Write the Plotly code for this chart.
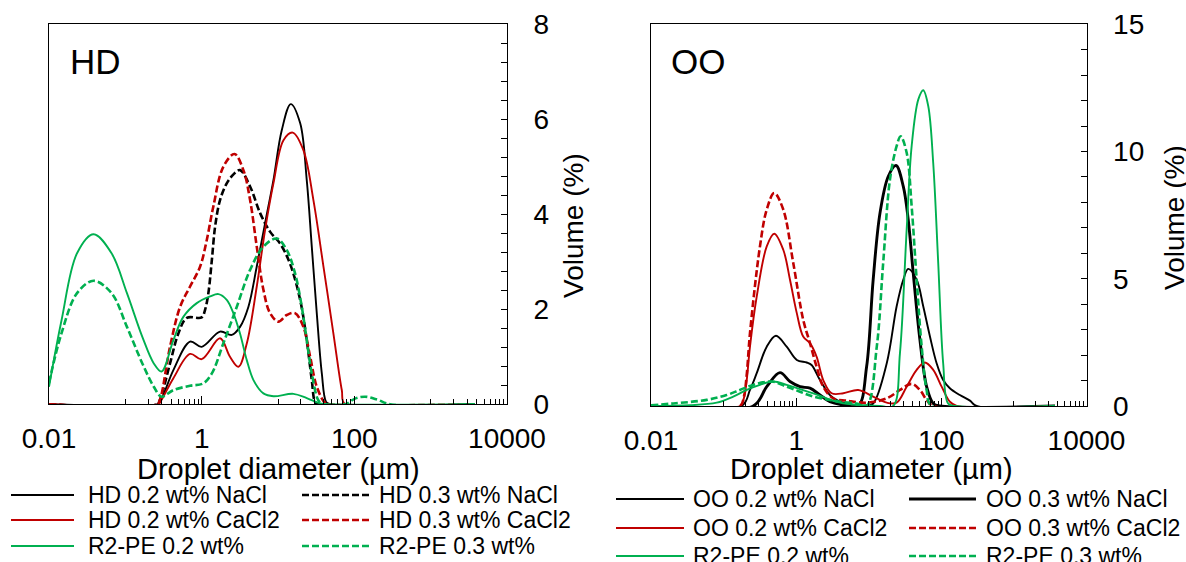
import plotly.graph_objects as go

W, H = 1186, 562
FONT = "Liberation Sans, Arial, sans-serif"

# ---------------- HD emulsions: droplet diameter (µm) / volume (%) ----------------
hd_nacl_02_d = [0.01, 0.26, 0.285, 0.426, 0.705, 1.0, 1.74, 2.48, 3.18, 4.09, 5.27, 6.77, 8.71,
                11.2, 14.7, 19.5, 23.8, 27.7, 32.2, 37.5, 42.7, 48.2, 3800]
hd_nacl_02_v = [0, 0, 0.05, 0.72, 1.32, 1.21, 1.53, 1.46, 1.63, 2.05, 2.9, 3.81, 4.72,
                5.77, 6.32, 5.92, 4.72, 3.32, 1.92, 0.65, 0.05, 0, 0]

hd_nacl_03_d = [0.01, 0.26, 0.285, 0.385, 0.495, 0.64, 1.0, 1.108, 1.224, 1.36, 1.5, 1.74, 2.13,
                2.61, 3.18, 4.32, 5.85, 7.9, 10.6, 14.3, 19.5, 23.8, 27.7, 30.5, 33.3, 3800]
hd_nacl_03_v = [0, 0, 0.1, 0.86, 1.49, 1.82, 1.83, 1.99, 2.34, 3.04, 3.74, 4.3, 4.65,
                4.84, 4.93, 4.58, 4.02, 3.63, 3.39, 2.97, 2.2, 1.35, 0.51, 0.05, 0, 0]

hd_cacl2_02_d = [0.01, 0.268, 0.29, 0.426, 0.705, 1.0, 1.74, 2.35, 3.03, 3.9, 5.27, 6.77, 8.71,
                 11.8, 15.6, 21.5, 29.1, 39.4, 53.2, 68.5, 75.7, 3800]
hd_cacl2_02_v = [0, 0, 0.06, 0.55, 1.06, 0.95, 1.39, 1.0, 0.79, 1.28, 2.48, 3.67, 4.65,
                 5.56, 5.72, 5.35, 4.3, 2.9, 1.49, 0.3, 0, 0]

hd_cacl2_03_d = [0.01, 0.26, 0.285, 0.385, 0.521, 0.705, 0.955, 1.167, 1.42, 1.92, 2.69, 3.52,
                 4.31, 5.27, 6.44, 7.87, 10.1, 13.0, 16.7, 21.5, 26.4, 32.2, 41.4, 48.0, 3800]
hd_cacl2_03_v = [0, 0, 0.1, 1.21, 2.05, 2.48, 2.9, 3.46, 4.16, 5.0, 5.27, 4.93,
                 4.3, 3.32, 2.41, 1.92, 1.74, 1.88, 1.92, 1.63, 1.0, 0.37, 0.03, 0, 0]

hd_r2pe_02_d = [0.01, 0.0146, 0.0233, 0.0383, 0.066, 0.105, 0.167, 0.236, 0.298, 0.426, 0.575,
                0.863, 1.29, 1.66, 2.13, 2.6, 3.18, 3.9, 4.77, 6.44, 8.71, 15.9, 23.8, 35.6, 48.0, 3800]
hd_r2pe_02_v = [0.37, 1.77, 3.18, 3.58, 3.18, 2.34, 1.42, 0.86, 0.69, 1.35, 1.84,
                2.13, 2.27, 2.32, 2.2, 1.92, 1.49, 0.93, 0.51, 0.23, 0.17, 0.22, 0.13, 0.02, 0, 0]

hd_r2pe_03_d = [0.01, 0.0146, 0.0233, 0.0383, 0.066, 0.105, 0.167, 0.236, 0.298, 0.426, 0.705,
                1.05, 1.36, 1.92, 2.88, 4.31, 6.44, 9.64, 13.0, 16.7, 20.5, 23.8, 27.7, 33.9, 39.0,
                75.7, 102, 138, 199, 294, 3800]
hd_r2pe_03_v = [0.45, 1.5, 2.34, 2.6, 2.34, 1.63, 0.86, 0.37, 0.16, 0.3, 0.39,
                0.44, 0.65, 1.28, 2.05, 2.83, 3.32, 3.49, 3.25, 2.76, 2.05, 1.35, 0.65, 0.08, 0,
                0, 0.12, 0.16, 0.1, 0, 0]

# ---------------- OO emulsions: droplet diameter (µm) / volume (%) ----------------
oo_nacl_02_d = [0.01, 0.177, 0.231, 0.286, 0.393, 0.527, 0.74, 1.02, 1.4, 1.63, 2.13, 2.92, 4.01,
                6.12, 9.35, 11.5, 17.7, 24.2, 29.9, 35.0, 45.7, 56.4, 69.7, 86.1, 106, 131, 180,
                248, 306, 3670]
oo_nacl_02_v = [0, 0, 0.63, 1.29, 2.33, 2.76, 2.33, 1.81, 1.71, 1.61, 1.02, 0.43, 0.17,
                0.05, 0.02, 0.1, 1.68, 3.91, 4.96, 5.39, 4.96, 3.91, 2.73, 1.68, 1.02, 0.7, 0.43,
                0.21, 0, 0]

oo_nacl_03_d = [0.01, 0.256, 0.393, 0.598, 0.822, 1.13, 1.55, 2.13, 2.92, 4.46, 7.16, 9.35, 11.5,
                14.3, 18.6, 23.7, 29.9, 35.0, 41.0, 50.7, 62.7, 77.3, 95.7, 3670]
oo_nacl_03_v = [0, 0, 0.76, 1.31, 0.96, 0.76, 0.7, 0.43, 0.17, 0.04, 0, 1.55, 4.96,
                7.59, 9.03, 9.45, 8.63, 7.32, 5.22, 2.6, 0.76, 0.1, 0, 0]

oo_cacl2_02_d = [0.01, 0.168, 0.19, 0.208, 0.231, 0.286, 0.393, 0.499, 0.664, 0.822, 1.02, 1.25,
                 1.55, 1.91, 2.36, 3.08, 4.46, 7.16, 11.5, 17.7, 24.2, 33.3, 45.7, 59.4, 77.3, 101,
                 131, 163, 3670]
oo_cacl2_02_v = [0, 0, 0.3, 1.0, 2.33, 4.3, 6.27, 6.77, 6.14, 4.96, 3.65, 2.73,
                 2.47, 1.94, 1.02, 0.5, 0.5, 0.63, 0.37, 0.13, 0.13, 0.76, 1.42, 1.71, 1.42, 0.76,
                 0.17, 0, 0]

oo_cacl2_03_d = [0.01, 0.168, 0.19, 0.208, 0.231, 0.317, 0.393, 0.499, 0.664, 0.912, 1.25, 1.55,
                 1.91, 2.36, 3.24, 4.97, 9.35, 17.7, 26.9, 39.0, 50.7, 62.7, 77.3, 3670]
oo_cacl2_03_v = [0, 0, 0.35, 1.2, 2.86, 6.27, 7.72, 8.37, 7.72, 5.62, 3.39, 2.47,
                 1.55, 0.76, 0.3, 0.21, 0.13, 0.3, 0.63, 0.87, 0.63, 0.24, 0, 0]

oo_r2pe_02_d = [0.01, 0.0344, 0.0804, 0.136, 0.208, 0.317, 0.484, 0.74, 1.13, 1.72, 2.63, 4.01,
                6.81, 14.3, 21.7, 26.9, 33.3, 39.0, 48.2, 56.4, 66.1, 77.3, 90.6, 106, 124, 154, 3670]
oo_r2pe_02_v = [0, 0.03, 0.13, 0.37, 0.63, 0.83, 0.96, 0.83, 0.66, 0.5, 0.3, 0.13,
                0.04, 0, 0, 2.07, 6.93, 10.21, 12.05, 12.41, 11.78, 9.55, 5.62, 1.68, 0.1, 0, 0]

oo_r2pe_03_d = [0.01, 0.0203, 0.0585, 0.11, 0.168, 0.256, 0.46, 0.74, 1.13, 1.72, 2.63, 4.01,
                6.81, 9.35, 12.9, 15.8, 19.6, 24.2, 27.5, 33.3, 39.0, 45.7, 53.6, 62.7, 73.5, 3670]
oo_r2pe_03_v = [0.03, 0.1, 0.24, 0.43, 0.63, 0.83, 0.96, 0.76, 0.56, 0.37, 0.26, 0.17,
                0.1, 0, 2.33, 5.62, 8.9, 10.21, 10.6, 9.95, 7.85, 4.96, 2.33, 0.63, 0, 0]

# ---------------- axis ticks ----------------
x_major = [0.01, 1, 100, 10000]
x_major_text = ["0.01", "1", "100", "10000"]
x_minor = ([k / 10 for k in range(1, 10)] + [10 * k for k in range(1, 10)]
           + [1000 * k for k in range(1, 10)])

BLACK = "#000000"
RED = "#C00000"
GREEN = "#00B050"
DASH = "7px,3px"
THIN, BOLD = 1.9, 2.6

hd_series = [
    ("HD 0.2 wt% NaCl", hd_nacl_02_d, hd_nacl_02_v, BLACK, "solid", THIN),
    ("HD 0.3 wt% NaCl", hd_nacl_03_d, hd_nacl_03_v, BLACK, DASH, BOLD),
    ("HD 0.2 wt% CaCl2", hd_cacl2_02_d, hd_cacl2_02_v, RED, "solid", THIN),
    ("HD 0.3 wt% CaCl2", hd_cacl2_03_d, hd_cacl2_03_v, RED, DASH, BOLD),
    ("R2-PE 0.2 wt%", hd_r2pe_02_d, hd_r2pe_02_v, GREEN, "solid", THIN),
    ("R2-PE 0.3 wt%", hd_r2pe_03_d, hd_r2pe_03_v, GREEN, DASH, BOLD),
]
oo_series = [
    ("OO 0.2 wt% NaCl", oo_nacl_02_d, oo_nacl_02_v, BLACK, "solid", THIN),
    ("OO 0.3 wt% NaCl", oo_nacl_03_d, oo_nacl_03_v, BLACK, "solid", 2.9),
    ("OO 0.2 wt% CaCl2", oo_cacl2_02_d, oo_cacl2_02_v, RED, "solid", THIN),
    ("OO 0.3 wt% CaCl2", oo_cacl2_03_d, oo_cacl2_03_v, RED, DASH, BOLD),
    ("R2-PE 0.2 wt%", oo_r2pe_02_d, oo_r2pe_02_v, GREEN, "solid", THIN),
    ("R2-PE 0.3 wt%", oo_r2pe_03_d, oo_r2pe_03_v, GREEN, DASH, BOLD),
]

fig = go.Figure()
for series, xa, ya in ((hd_series, "x", "y"), (oo_series, "x2", "y2")):
    for name, d, v, color, dash, width in series:
        fig.add_trace(go.Scatter(
            x=d, y=v, name=name, mode="lines", xaxis=xa, yaxis=ya,
            line=dict(color=color, dash=dash, width=width, shape="spline", smoothing=1.0),
            showlegend=False,
        ))


def px_x(px):
    return px / W


def px_y(py):
    return 1 - py / H


def x_axis(domain, anchor):
    return dict(
        domain=domain, anchor=anchor, type="log", range=[-2, 4],
        showline=True, linecolor=BLACK, linewidth=1, mirror=True,
        showgrid=False, zeroline=False, automargin=False, fixedrange=True,
        tickmode="array", tickvals=x_major, ticktext=x_major_text,
        ticks="inside", ticklen=8, tickwidth=1, tickcolor=BLACK,
        tickfont=dict(size=28, color=BLACK, family=FONT), ticklabelstandoff=9,
        minor=dict(tickmode="array", tickvals=x_minor, ticks="inside", ticklen=5,
                   tickwidth=1, tickcolor=BLACK, showgrid=False),
    )


def y_axis(domain, anchor, top, major, minor):
    return dict(
        domain=domain, anchor=anchor, side="right", range=[0, top],
        showline=True, linecolor=BLACK, linewidth=1, mirror=True,
        showgrid=False, zeroline=False, automargin=False, fixedrange=True,
        tickmode="linear", tick0=0, dtick=major,
        ticks="inside", ticklen=6, tickwidth=1, tickcolor=BLACK,
        tickfont=dict(size=28, color=BLACK, family=FONT), ticklabelstandoff=20,
        minor=dict(dtick=minor, tick0=0, ticks="inside", ticklen=6, tickwidth=1,
                   tickcolor=BLACK, showgrid=False),
    )


fig.update_layout(
    width=W, height=H,
    margin=dict(l=0, r=0, t=0, b=0),
    paper_bgcolor="white", plot_bgcolor="white",
    font=dict(family=FONT, color=BLACK),
    showlegend=False,
    xaxis=x_axis([px_x(49), px_x(507)], "y"),
    yaxis=y_axis([px_y(404.3), px_y(24.3)], "x", 8, 2, 0.4),
    xaxis2=x_axis([px_x(651), px_x(1086.5)], "y2"),
    yaxis2=y_axis([px_y(406), px_y(24.3)], "x2", 15, 5, 1),
)

annotations = []
shapes = []


def text(x, y, s, size, angle=0, xanchor="center"):
    annotations.append(dict(
        x=px_x(x), y=px_y(y), xref="paper", yref="paper", text=s, showarrow=False,
        xanchor=xanchor, yanchor="middle", textangle=angle,
        font=dict(size=size, color=BLACK, family=FONT),
    ))


# panel tags
text(68, 62, "HD", 35, xanchor="left")
text(669, 62, "OO", 35, xanchor="left")
# axis titles
text(278, 469, "Droplet diameter (µm)", 29)
text(871, 469, "Droplet diameter (µm)", 29)
text(574, 226, "Volume (%)", 28, angle=-90)
text(1175, 218, "Volume (%)", 28, angle=-90)


def legend(series, cols, rows):
    for i, (name, _, _, color, dash, width) in enumerate(series):
        (lx0, lx1, tx), ry = cols[i % 2], rows[i // 2]
        shapes.append(dict(
            type="line", xref="paper", yref="paper",
            x0=px_x(lx0), x1=px_x(lx1), y0=px_y(ry), y1=px_y(ry),
            line=dict(color=color, width=width, dash=dash),
        ))
        text(tx, ry, name, 23, xanchor="left")


legend(hd_series, [(11, 74, 86), (302, 369, 377)], [495, 520, 546])
legend(oo_series, [(616, 684, 691), (909, 976, 984)], [499, 528, 556])

fig.update_layout(annotations=annotations, shapes=shapes)
fig.write_html("out.html")
